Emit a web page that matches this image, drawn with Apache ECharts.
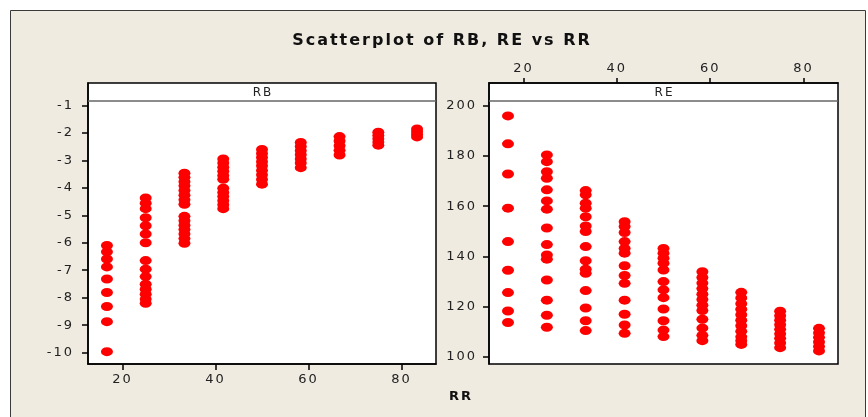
<!DOCTYPE html>
<html>
<head>
<meta charset="utf-8">
<script src="https://cdn.jsdelivr.net/npm/echarts@6/dist/echarts.min.js"></script>
<style>html,body{margin:0;padding:0;background:#fff;}#c{width:868px;height:417px;}</style>
</head>
<body>
<div id="c"></div>
<script>
// ---- data ----
const rrValues = [16.67, 25, 33.33, 41.67, 50, 58.33, 66.67, 75, 83.33];
const xTicks = [20, 40, 60, 80];
const rbTicks = [-1, -2, -3, -4, -5, -6, -7, -8, -9, -10];
const reTicks = [100, 120, 140, 160, 180, 200];
const rbByRR = [
  [-6.10, -6.33, -6.59, -6.88, -7.32, -7.81, -8.32, -8.87, -9.96],
  [-4.37, -4.56, -4.76, -5.09, -5.38, -5.68, -6.00, -6.65, -6.96, -7.23, -7.51, -7.69, -7.87, -8.05, -8.20],
  [-3.47, -3.62, -3.78, -3.93, -4.10, -4.27, -4.44, -4.60, -5.04, -5.20, -5.36, -5.52, -5.68, -5.85, -6.02],
  [-2.95, -3.10, -3.25, -3.40, -3.55, -3.69, -4.02, -4.17, -4.32, -4.47, -4.62, -4.76],
  [-2.61, -2.75, -2.90, -3.05, -3.20, -3.37, -3.53, -3.70, -3.87],
  [-2.35, -2.50, -2.65, -2.80, -2.95, -3.10, -3.27],
  [-2.14, -2.30, -2.47, -2.64, -2.81],
  [-1.98, -2.10, -2.22, -2.34, -2.45],
  [-1.86, -1.96, -2.06, -2.15]
];
const reByRR = [
  [195.9, 184.8, 172.8, 159.2, 145.9, 134.5, 125.6, 118.3, 113.7],
  [180.4, 177.7, 173.7, 171.1, 166.5, 162.1, 158.8, 151.3, 144.7, 140.6, 138.9, 130.6, 122.6, 116.6, 111.8],
  [166.2, 164.5, 161.2, 159.2, 155.8, 152.1, 149.9, 143.9, 138.3, 134.9, 133.3, 126.4, 119.5, 114.4, 110.5],
  [153.8, 151.9, 149.5, 145.9, 143.2, 141.3, 136.3, 132.4, 129.3, 122.6, 117.0, 112.7, 109.4],
  [143.2, 141.3, 139.3, 137.3, 134.6, 130.0, 126.7, 123.6, 119.1, 114.4, 110.7, 108.1],
  [133.9, 131.6, 129.4, 127.2, 125.0, 122.9, 120.6, 118.5, 115.0, 111.5, 108.6, 106.5],
  [125.7, 123.5, 121.2, 119.0, 116.8, 114.6, 112.4, 110.2, 108.0, 106.5, 105.0],
  [118.2, 116.4, 114.6, 112.8, 111.0, 109.2, 107.4, 105.6, 103.7],
  [111.4, 109.6, 107.8, 106.0, 104.2, 102.4]
];
const titleText = 'Scatterplot of RB, RE vs RR';
const panelNames = ['RB', 'RE'];
const xName = 'RR';

// ---- build ----
function pairs(groups) {
  const out = [];
  groups.forEach((g, i) => g.forEach(v => out.push([rrValues[i], v])));
  return out;
}
const FONT = 'DejaVu Sans';
const labelStyle = { fontFamily: FONT, fontSize: 13, color: '#222' };
const tickStyle = { color: '#000', width: 1.5 };

const chart = echarts.init(document.getElementById('c'), null, { renderer: 'canvas' });
const P = [
  { left: 88, top: 83, width: 348, height: 281 },
  { left: 489, top: 83, width: 349, height: 281 }
];
const option = {
  backgroundColor: '#ffffff',
  animation: false,
  grid: P.map(p => ({
    left: p.left, top: p.top, width: p.width, height: p.height,
    show: true, backgroundColor: '#ffffff', borderColor: '#000', borderWidth: 1.5
  })),
  xAxis: [
    {
      gridIndex: 0, type: 'value', position: 'bottom', min: 12.6, max: 87.4,
      splitLine: { show: false },
      axisLine: { show: true, lineStyle: tickStyle },
      axisTick: { show: true, length: 6, lineStyle: tickStyle, customValues: xTicks },
      axisLabel: Object.assign({ margin: 9, customValues: xTicks }, labelStyle)
    },
    {
      gridIndex: 1, type: 'value', position: 'top', min: 12.6, max: 87.4,
      splitLine: { show: false },
      axisLine: { show: true, lineStyle: tickStyle },
      axisTick: { show: true, length: 5, lineStyle: tickStyle, customValues: xTicks },
      axisLabel: Object.assign({ margin: 8, customValues: xTicks }, labelStyle)
    }
  ],
  yAxis: [
    {
      gridIndex: 0, type: 'value', position: 'left', min: -10.41, max: -0.19,
      splitLine: { show: false },
      axisLine: { show: true, lineStyle: tickStyle },
      axisTick: { show: true, length: 6, lineStyle: tickStyle, customValues: rbTicks },
      axisLabel: Object.assign({ margin: 14, customValues: rbTicks }, labelStyle)
    },
    {
      gridIndex: 1, type: 'value', position: 'left', min: 97.2, max: 209.0,
      splitLine: { show: false },
      axisLine: { show: true, lineStyle: tickStyle },
      axisTick: { show: true, length: 6, lineStyle: tickStyle, customValues: reTicks },
      axisLabel: Object.assign({ margin: 12, customValues: reTicks }, labelStyle)
    }
  ],
  series: [
    {
      name: panelNames[0], type: 'scatter', xAxisIndex: 0, yAxisIndex: 0,
      symbol: 'circle', symbolSize: [12, 9],
      itemStyle: { color: '#ff0000', opacity: 1 },
      data: pairs(rbByRR)
    },
    {
      name: panelNames[1], type: 'scatter', xAxisIndex: 1, yAxisIndex: 1,
      symbol: 'circle', symbolSize: [12, 9],
      itemStyle: { color: '#ff0000', opacity: 1 },
      data: pairs(reByRR)
    }
  ],
  graphic: [
    {
      type: 'rect', z: -10, silent: true,
      shape: { x: 10.5, y: 10.5, width: 855, height: 420 },
      style: { fill: '#efebe1', stroke: '#3a3a3a', lineWidth: 1 }
    },
    {
      type: 'text', z: 10, silent: true, x: 442, y: 41,
      style: { text: titleText, fontFamily: FONT, fontWeight: 'bold', fontSize: 16, fill: '#111', align: 'center', verticalAlign: 'middle' }
    },
    {
      type: 'text', z: 10, silent: true, x: 461, y: 397,
      style: { text: xName, fontFamily: FONT, fontWeight: 'bold', fontSize: 13, fill: '#111', align: 'center', verticalAlign: 'middle' }
    }
  ].concat(P.flatMap((p, i) => [
    {
      type: 'line', z: 10, silent: true,
      shape: { x1: p.left, y1: 101, x2: p.left + p.width, y2: 101 },
      style: { stroke: '#666', lineWidth: 1.5 }
    },
    {
      type: 'text', z: 10, silent: true, x: p.left + p.width / 2 + 1, y: 92.5,
      style: { text: panelNames[i], fontFamily: FONT, fontSize: 12, fill: '#222', align: 'center', verticalAlign: 'middle' }
    }
  ]))
};
chart.setOption(option);
// the reference uses widely tracked lettering: apply canvas letter spacing and redraw
try {
  const layers = chart.getZr().painter.getLayers();
  Object.keys(layers).forEach(k => {
    const l = layers[k];
    if (l && l.ctx && 'letterSpacing' in l.ctx) l.ctx.letterSpacing = '2px';
  });
  chart.setOption(option, true);
} catch (e) {}
</script>
</body>
</html>
